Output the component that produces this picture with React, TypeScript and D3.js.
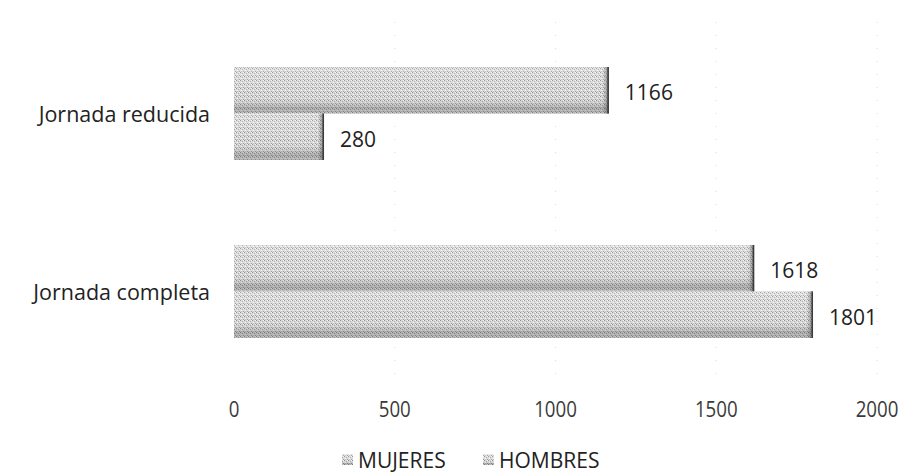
import React from "react";
import * as d3 from "d3";

const categories = ["Jornada reducida", "Jornada completa"];
const seriesNames = ["HOMBRES", "MUJERES"];
const hombres = [1166, 1618];
const mujeres = [280, 1801];
const xTicks = [0, 500, 1000, 1500, 2000];
const legendItems = ["MUJERES", "HOMBRES"];

const W = 921;
const H = 473;

export default function App() {
  const x = d3.scaleLinear().domain([0, 2000]).range([234, 877]);
  const y = d3
    .scaleBand()
    .domain(categories)
    .range([24.5, 380.5])
    .paddingInner(0.4775)
    .paddingOuter(0.239);
  const inner = d3.scaleBand().domain(seriesNames).range([0, y.bandwidth()]);
  const values: Record<string, number[]> = { HOMBRES: hombres, MUJERES: mujeres };
  const font = "'Open Sans', 'Noto Sans', sans-serif";

  return (
    <svg width={W} height={H} style={{ position: "absolute", left: 0, top: 0, background: "#fff" }}>
      <defs>
        <pattern id="stip" width="4" height="4" patternUnits="userSpaceOnUse">
          <rect width="4" height="4" fill="#dadada" />
          <rect x="0" y="0" width="1" height="1" fill="#8c8c8c" />
          <rect x="2" y="1" width="1" height="1" fill="#a4a4a4" />
          <rect x="1" y="2" width="1" height="1" fill="#fafafa" />
          <rect x="3" y="3" width="1" height="1" fill="#9a9a9a" />
          <rect x="3" y="0" width="1" height="1" fill="#f4f4f4" />
          <rect x="1" y="3" width="1" height="1" fill="#bcbcbc" />
        </pattern>
        <linearGradient id="shade" x1="0" y1="0" x2="0" y2="1">
          <stop offset="0" stopColor="#ffffff" stopOpacity="0.2" />
          <stop offset="0.6" stopColor="#ffffff" stopOpacity="0" />
          <stop offset="0.88" stopColor="#444" stopOpacity="0.3" />
          <stop offset="1" stopColor="#555" stopOpacity="0.25" />
        </linearGradient>
        <linearGradient id="edge" x1="0" y1="0" x2="1" y2="0">
          <stop offset="0" stopColor="#333" stopOpacity="0" />
          <stop offset="1" stopColor="#333" stopOpacity="0.55" />
        </linearGradient>
      </defs>

      {xTicks.slice(1).map((t) => (
        <line key={"g" + t} x1={x(t)} x2={x(t)} y1={22} y2={382} stroke="#dcdcdc" strokeWidth={1} strokeDasharray="1 12" />
      ))}

      {categories.map((c, i) => (
        <g key={c}>
          <text
            x={210}
            y={(y(c) ?? 0) + y.bandwidth() / 2}
            textAnchor="end"
            dominantBaseline="central"
            fontFamily={font}
            fontSize={21.5}
            fill="#222"
          >
            {c}
          </text>
          {seriesNames.map((s) => {
            const v = values[s][i];
            const by = (y(c) ?? 0) + (inner(s) ?? 0);
            const bh = inner.bandwidth();
            const bw = x(v) - x(0);
            return (
              <g key={s}>
                <rect x={x(0)} y={by} width={bw} height={bh} fill="url(#stip)" />
                <rect x={x(0)} y={by} width={bw} height={bh} fill="url(#shade)" />
                <rect x={x(v) - 6} y={by} width={6} height={bh} fill="url(#edge)" />
                <line x1={x(v) - 0.75} x2={x(v) - 0.75} y1={by} y2={by + bh} stroke="#3a3a3a" strokeWidth={1.5} />
                <text
                  x={x(v) + 16}
                  y={by + bh / 2 + 2}
                  dominantBaseline="central"
                  fontFamily={font}
                  fontSize={21}
                  fill="#222"
                >
                  {v}
                </text>
              </g>
            );
          })}
        </g>
      ))}

      {xTicks.map((t) => (
        <text
          key={"t" + t}
          transform={`translate(${x(t)},408) scale(0.85,1)`}
          textAnchor="middle"
          dominantBaseline="central"
          fontFamily={font}
          fontSize={22}
          fill="#3a3a3a"
        >
          {t}
        </text>
      ))}

      {legendItems.map((s, i) => {
        const lx = [342, 483][i];
        return (
          <g key={"l" + s}>
            <rect x={lx} y={454} width={11} height={11} fill="url(#stip)" />
            <rect x={lx} y={454} width={11} height={11} fill="url(#shade)" />
            <text x={lx + 16} y={460} dominantBaseline="central" fontFamily={font} fontSize={21} fill="#222">
              {s}
            </text>
          </g>
        );
      })}
    </svg>
  );
}
